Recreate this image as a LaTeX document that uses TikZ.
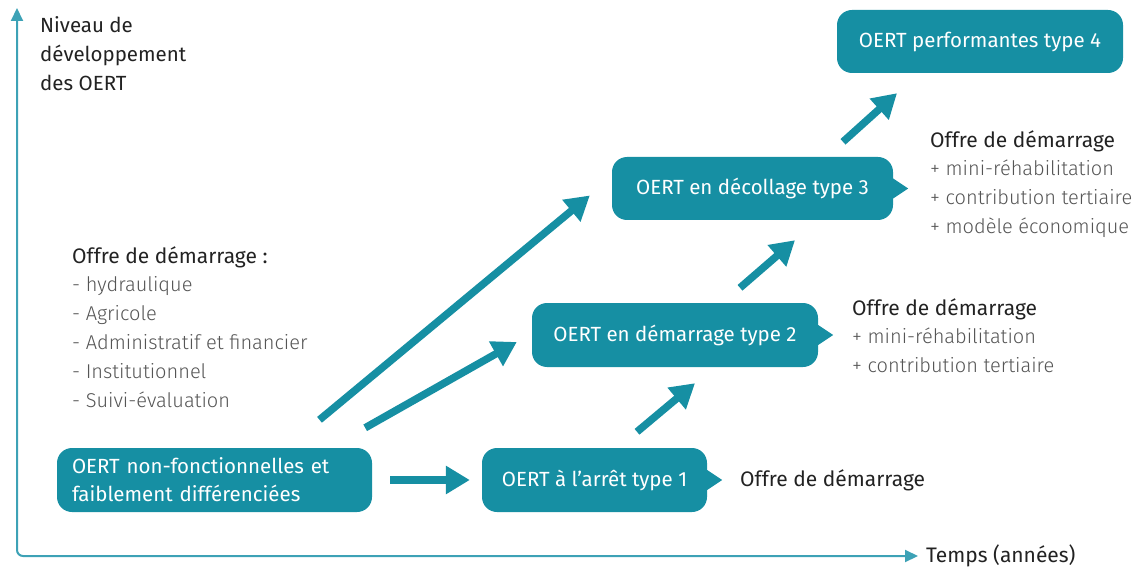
\documentclass[tikz,border=0pt]{standalone}
\usepackage{fontspec}
\setmainfont{Fira Sans}
\newfontfamily\lightfont{Fira Sans Light}
\usetikzlibrary{arrows.meta,calc}
\definecolor{teal1}{HTML}{168FA3}
\definecolor{axiscol}{HTML}{3DA2B6}
\definecolor{darktxt}{HTML}{222222}
\definecolor{greytxt}{HTML}{555555}
\begin{document}
\begin{tikzpicture}[x=1pt,y=-1pt,
  box/.style={fill=teal1,rounded corners=15pt,text=white,font=\fontsize{20.5}{28}\selectfont,align=left,inner sep=0pt},
  arr/.style={draw=teal1,line width=7.5pt,-{Triangle[length=24pt,width=27pt]}},
  axis/.style={draw=axiscol,line width=2pt,rounded corners=6pt,{Triangle[length=13pt,width=12pt]}-{Triangle[length=13pt,width=12pt]}},
  head/.style={text=darktxt,font=\fontsize{21}{29}\selectfont,align=left,inner sep=0pt,anchor=west},
  items/.style={text=greytxt,font=\lightfont\fontsize{20}{29}\selectfont,align=left,inner sep=0pt,anchor=north west}]
\useasboundingbox (0,0) rectangle (1134,569);
% axes
\coordinate (O) at (17,556);
\coordinate (Ytop) at (17,8);
\coordinate (Xend) at (918,556);
\draw[axis] (Ytop) -- (O) -- (Xend);
\node[head,anchor=north west,font=\fontsize{20.5}{29}\selectfont] (ylab) at (40,16) {Niveau de\\développement\\des OERT};
\node[head] (xlab) at (926,556) {Temps (années)};
% boxes
\node[box,minimum width=315pt,minimum height=64pt,text width=285pt] (b0) at (214.5,480) {OERT non-fonctionnelles et\\faiblement différenciées};
\node[box,minimum width=225pt,minimum height=64pt] (b1) at (594.5,480) {OERT à l’arrêt type 1};
\node[box,minimum width=286pt,minimum height=64pt] (b2) at (675,335) {OERT en démarrage type 2};
\node[box,minimum width=281pt,minimum height=63pt] (b3) at (752.5,188.5) {OERT en décollage type 3};
\node[box,minimum width=286pt,minimum height=63pt] (b4) at (980,41.5) {OERT performantes type 4};
% pointers
\foreach \b in {b1,b2,b3}{
  \fill[teal1] ([yshift=10pt]\b.east) -- ([xshift=15pt]\b.east) -- ([yshift=-10pt]\b.east) -- cycle;
}
% arrows
\draw[arr] ([xshift=18pt]b0.east) -- ([xshift=-12pt]b1.west);
\draw[arr] ($(b0.north)+(105,-28)$) -- ($(b3.west)+(-22,7)$);
\draw[arr] ($(b0.north east)+(-7,-20)$) -- ($(b2.west)+(-15,7)$);
\draw[arr] ($(b1.north)+(42.5,-16)$) -- ($(b2.south)+(20,16)$);
\draw[arr] ($(b2.north)+(65,-15)$) -- ($(b3.south)+(42.5,20)$);
\draw[arr] ($(b3.north)+(90.5,-15)$) -- ($(b4.south)+(-83,20)$);
% labels
\node[head] (o0) at (72,257) {Offre de démarrage :};
\node[items] (l0) at (72,276) {- hydraulique\\- Agricole\\- Administratif et financier\\- Institutionnel\\- Suivi-évaluation};
\node[head] (o1) at (740,480) {Offre de démarrage};
\node[head] (o2) at (852,309) {Offre de démarrage};
\node[items] (l2) at (852,328) {+ mini-réhabilitation\\+ contribution tertiaire};
\node[head] (o3) at (930,141) {Offre de démarrage};
\node[items] (l3) at (930,160) {+ mini-réhabilitation\\+ contribution tertiaire\\+ modèle économique};
\end{tikzpicture}
\end{document}
